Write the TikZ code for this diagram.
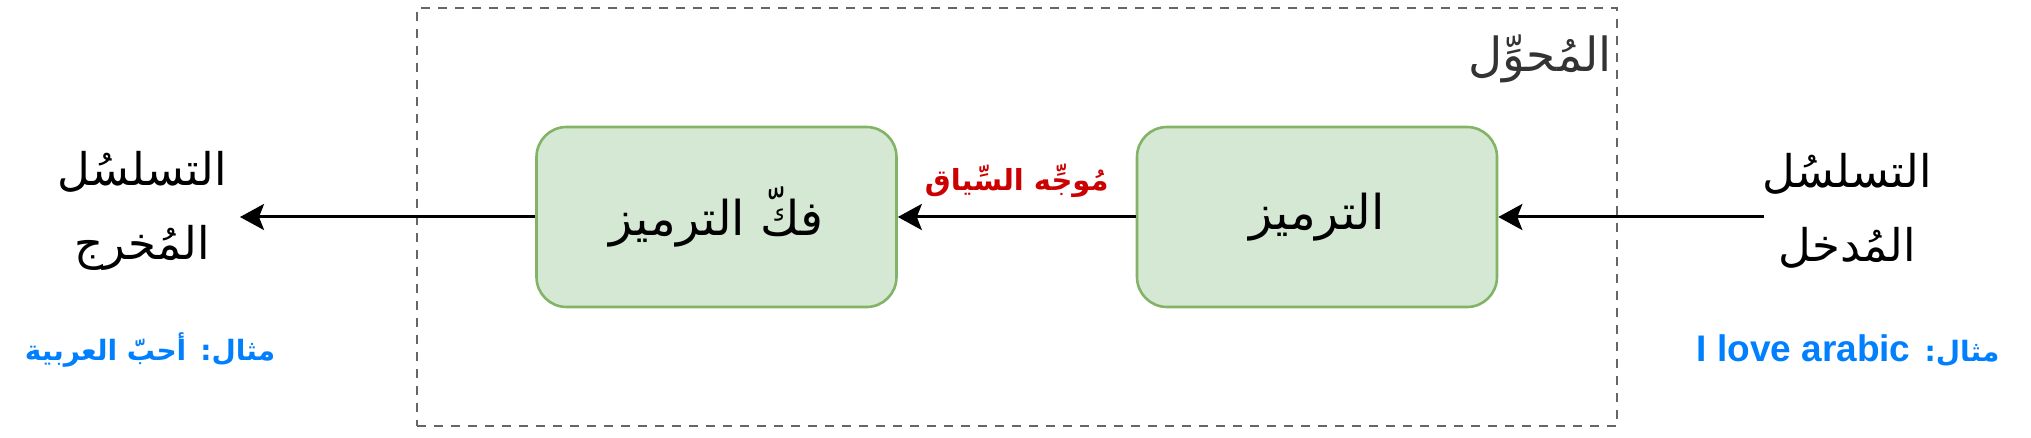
\documentclass[tikz,border=0pt]{standalone}
\usepackage{fontspec}
\usetikzlibrary{arrows.meta}
\TeXXeTstate=1
\newfontfamily\arabicfont[Script=Arabic]{DejaVu Sans}
\newfontfamily\latinfont{Liberation Sans}
\definecolor{boxfill}{HTML}{D5E8D4}
\definecolor{boxline}{HTML}{82B366}
\definecolor{framegray}{HTML}{666666}
\definecolor{titlegray}{HTML}{333333}
\definecolor{ctxred}{HTML}{CC0000}
\definecolor{exblue}{HTML}{007FFF}
\tikzset{
  stagebox/.style={draw=boxline, fill=boxfill, line width=1.3pt, rounded corners=15pt,
    minimum width=180pt, minimum height=90pt, font=\arabicfont\fontsize{24}{30}\selectfont},
  framebox/.style={draw=framegray, line width=1pt, dash pattern=on 4.5pt off 4pt,
    minimum width=600pt, minimum height=209pt},
  seqtext/.style={align=center, inner sep=0pt, font=\arabicfont\fontsize{22.5}{37}\selectfont},
  flow/.style={line width=1.5pt, -{Stealth[length=12pt, width=13pt, inset=2.5pt]}},
  extext/.style={text=exblue, inner sep=0pt, font=\arabicfont\bfseries\fontsize{14}{16}\selectfont},
  ctxtext/.style={text=ctxred, inner sep=0pt, font=\arabicfont\bfseries\fontsize{14.5}{16}\selectfont},
}
\begin{document}
\begin{tikzpicture}[x=0.5pt, y=-0.5pt]
\useasboundingbox (0,0) rectangle (2031,438);
\node[framebox] (frame) at (1017,217) {};
\node[anchor=base east, inner sep=0pt, text=titlegray, font=\arabicfont\fontsize{23.5}{28}\selectfont] (title) at (1612,72) {\beginR المُحوِّل\endR};
\node[stagebox] (enc) at (1317,217) {\beginR الترميز\endR};
\node[stagebox] (dec) at (716.5,217) {\beginR فكّ الترميز\endR};
\node[seqtext] (in) at (1847,211) {\beginR التسلسُل\endR\\\beginR المُدخل\endR};
\node[seqtext] (out) at (142,211) {\beginR التسلسُل\endR\\\beginR المُخرج\endR};
\coordinate (instart) at (1764,217);
\coordinate (outend) at (240,217);
\draw[flow] (instart) -- (enc.east);
\draw[flow] (enc.west) -- node[ctxtext, above=9pt] (ctx) {\beginR مُوجِّه السِّياق\endR} (dec.east);
\draw[flow] (dec.west) -- (outend);
\node[extext] (exin) at (1848,351) {\beginR مثال:\hspace{0.5em}\beginL{\latinfont\bfseries\fontsize{18.5}{20}\selectfont I love arabic}\endL\endR};
\node[extext] (exout) at (150,350) {\beginR مثال:\hspace{0.5em}أحبّ العربية\endR};
\end{tikzpicture}
\end{document}
